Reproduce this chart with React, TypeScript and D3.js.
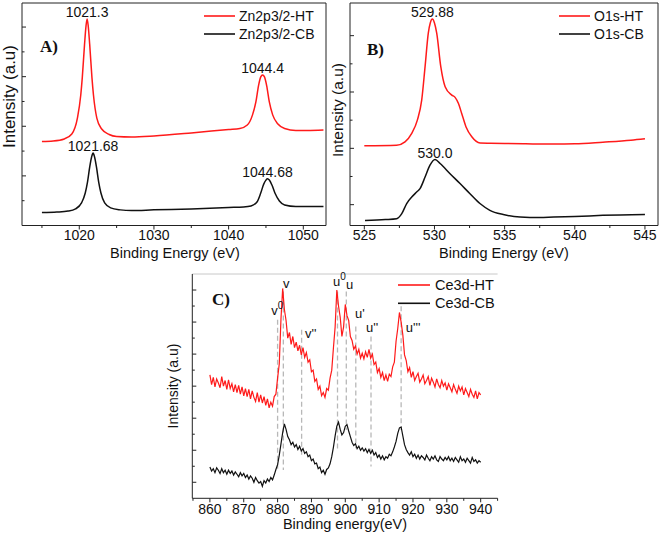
import React from 'react';
import * as d3 from 'd3';

type Pt = [number, number];

// ---- Panel A: Zn2p3/2 (energy eV, intensity a.u.) ----
const znHT: Pt[] = [[1015.0,3.39],[1016.5,3.41],[1018.0,3.49],[1019.0,3.69],[1019.75,4.33],[1020.2,5.26],[1020.4,5.95],[1020.7,7.28],[1020.9,8.04],[1021.05,8.33],[1021.2,8.04],[1021.4,7.28],[1021.7,5.95],[1021.9,5.26],[1022.35,4.33],[1023.0,3.89],[1024.0,3.67],[1025.0,3.59],[1027.0,3.57],[1030.0,3.61],[1035.0,3.73],[1040.0,3.87],[1041.5,3.91],[1042.5,4.05],[1043.2,4.46],[1043.65,4.98],[1044.0,5.63],[1044.3,5.99],[1044.55,6.07],[1044.8,5.99],[1045.1,5.63],[1045.45,4.98],[1045.9,4.46],[1046.6,4.09],[1047.5,3.91],[1049.0,3.83],[1050.5,3.83],[1052.7,3.85]];
const znCB: Pt[] = [[1015.0,0.52],[1017.0,0.54],[1018.5,0.58],[1019.5,0.67],[1020.3,0.91],[1020.8,1.31],[1021.1,1.75],[1021.4,2.36],[1021.65,2.76],[1021.85,2.92],[1022.05,2.76],[1022.3,2.36],[1022.6,1.75],[1022.9,1.31],[1023.4,0.91],[1024.2,0.71],[1025.5,0.63],[1027.0,0.60],[1030.0,0.63],[1035.0,0.67],[1040.0,0.73],[1042.0,0.75],[1043.0,0.79],[1043.8,0.95],[1044.3,1.31],[1044.7,1.67],[1045.0,1.83],[1045.2,1.88],[1045.45,1.83],[1045.8,1.63],[1046.2,1.31],[1046.8,0.99],[1047.5,0.83],[1049.0,0.77],[1051.0,0.77],[1052.7,0.77]];
const znPeaks = [
  { text: '1021.3', e: 1021.05, v: 8.33 },
  { text: '1044.4', e: 1044.55, v: 6.07 },
  { text: '1021.68', e: 1021.85, v: 2.92 },
  { text: '1044.68', e: 1045.2, v: 1.88 },
];
const znXTicks = [1020, 1030, 1040, 1050];
const znXMinor = [1015, 1025, 1035, 1045];
const znYMajor = [2, 4, 6, 8];
const znYMinor = [1, 3, 5, 7];

// ---- Panel B: O1s ----
const oHT: Pt[] = [[525.0,3.09],[527.3,3.11],[527.9,3.23],[528.38,3.53],[528.78,4.00],[529.09,4.71],[529.33,5.90],[529.56,7.09],[529.7,7.45],[529.85,7.59],[530.0,7.45],[530.16,7.09],[530.45,5.90],[530.76,5.19],[531.23,4.89],[531.47,4.81],[531.71,4.59],[531.94,4.24],[532.25,3.76],[532.66,3.41],[533.25,3.19],[534.0,3.18],[535.0,3.17],[536.5,3.16],[538.5,3.15],[540.0,3.16],[542.0,3.22],[544.0,3.29],[545.0,3.34]];
const oCB: Pt[] = [[525.05,0.44],[526.5,0.47],[527.3,0.50],[527.67,0.68],[528.02,1.04],[528.38,1.27],[528.73,1.45],[528.97,1.57],[529.33,1.98],[529.68,2.40],[530.04,2.60],[530.4,2.46],[531.11,2.10],[531.82,1.75],[532.53,1.39],[533.24,1.04],[533.95,0.80],[534.9,0.65],[536.1,0.56],[537.5,0.54],[538.5,0.56],[540.0,0.58],[542.0,0.62],[545.0,0.65]];
const oPeaks = [
  { text: '529.88', e: 529.85, v: 7.59 },
  { text: '530.0', e: 530.04, v: 2.60 },
];
const oXTicks = [525, 530, 535, 540, 545];
const oXMinor = [527.5, 532.5, 537.5, 542.5];
const oYMajor = [1, 3, 5, 7];
const oYMinor = [2, 4, 6];

// ---- Panel C: Ce3d, sampled every 0.5 eV from 860 eV ----
const ceStart = 860;
const ceStep = 0.5;
const ceHT = [
  7.7, 7.1, 7.55, 6.95, 7.45, 7.2, 6.9, 7.6, 7.0, 7.35,
  6.8, 7.4, 6.85, 7.15, 6.65, 7.1, 6.6, 7.05, 6.5, 6.95,
  6.4, 6.85, 6.35, 6.8, 6.2, 6.7, 6.3, 6.05, 6.6, 6.0,
  6.45, 5.95, 6.35, 5.8, 6.2, 5.65, 6.0, 5.75, 6.35, 6.5,
  7.5, 8.4, 11.2, 13.1, 11.8, 11.1, 10.0, 10.35, 9.6, 10.1,
  9.4, 9.75, 9.2, 9.55, 8.95, 9.4, 8.8, 9.1, 8.5, 8.65,
  7.9, 8.0, 7.3, 7.45, 6.8, 7.0, 6.4, 6.6, 6.3, 6.85,
  6.75, 7.5, 8.0, 9.4, 10.7, 13.0, 12.0, 11.3, 10.1, 10.7,
  12.1, 11.4, 11.1, 10.1, 9.85, 9.3, 9.5, 9.0, 9.3, 8.75,
  9.05, 8.7, 9.15, 8.8, 9.3, 8.75, 9.0, 8.35, 8.5, 7.85,
  8.1, 7.55, 7.85, 7.35, 7.7, 7.3, 7.75, 7.6, 8.2, 8.5,
  9.8, 10.6, 11.6, 11.0, 10.2, 8.95, 8.6, 7.9, 8.15, 7.55,
  7.9, 7.35, 7.6, 7.8, 7.25, 7.45, 7.7, 7.15, 7.35, 7.6,
  7.05, 7.5, 7.25, 6.95, 7.45, 7.1, 6.9, 7.35, 7.0, 7.2,
  6.75, 7.15, 6.9, 6.65, 7.1, 6.8, 6.55, 7.0, 6.7, 6.95,
  6.45, 6.85, 6.6, 6.35, 6.8, 6.5, 6.3, 6.7, 6.2, 6.6,
  6.45,
];
const ceCB = [
  1.95, 1.7, 1.85, 1.6, 1.9, 1.75, 1.55, 1.85, 1.6, 1.75,
  1.5, 1.75, 1.55, 1.7, 1.45, 1.65, 1.5, 1.35, 1.6, 1.4,
  1.55, 1.3, 1.45, 1.2, 1.4, 1.25, 1.0, 1.3, 1.1, 0.95,
  1.05, 0.75, 1.1, 0.95, 1.2, 1.05, 1.3, 1.15, 1.45, 1.8,
  2.1, 2.7, 3.4, 4.1, 4.65, 4.3, 3.85, 3.65, 3.35, 3.5,
  3.2, 3.35, 3.05, 3.25, 2.95, 3.1, 2.8, 2.9, 2.6, 2.7,
  2.35, 2.45, 2.15, 2.2, 1.85, 1.95, 1.6, 1.75, 1.5, 1.8,
  1.9, 2.15, 2.6, 3.2, 3.9, 4.5, 4.75, 4.3, 3.95, 4.1,
  4.5, 4.6, 4.2, 3.85, 3.5, 3.3, 3.4, 3.1, 3.25, 3.0,
  3.15, 2.95, 3.1, 2.85, 3.05, 2.8, 3.0, 2.7, 2.85, 2.55,
  2.7, 2.45, 2.65, 2.4, 2.6, 2.5, 2.75, 2.65, 2.9, 3.2,
  3.55, 4.05, 4.4, 4.45, 3.9, 3.35, 3.05, 2.85, 2.7, 2.9,
  2.6, 2.75, 2.5, 2.7, 2.45, 2.65, 2.55, 2.4, 2.7, 2.5,
  2.35, 2.6, 2.45, 2.65, 2.4, 2.3, 2.6, 2.45, 2.35, 2.55,
  2.4, 2.6, 2.35, 2.5, 2.3, 2.55, 2.4, 2.25, 2.6, 2.35,
  2.45, 2.25, 2.5, 2.35, 2.2, 2.55, 2.3, 2.4, 2.2, 2.35,
  2.25,
];
// satellite markers: line energy, line top/bottom (a.u.), label anchor (energy, a.u.)
const ceMarks = [
  { name: 'v', sup: '0', e: 880.0, top: 11.14, bottom: 1.77, le: 878.1, lv: 11.46 },
  { name: 'v', sup: '', e: 881.7, top: 12.91, bottom: 1.77, le: 881.6, lv: 13.14 },
  { name: "v''", sup: '', e: 887.1, top: 10.52, bottom: 2.6, le: 888.1, lv: 10.02 },
  { name: 'u', sup: '0', e: 897.7, top: 12.91, bottom: 3.02, le: 896.4, lv: 13.23 },
  { name: 'u', sup: '', e: 900.3, top: 12.91, bottom: 4.27, le: 900.2, lv: 13.08 },
  { name: "u'", sup: '', e: 903.1, top: 10.72, bottom: 3.12, le: 902.9, lv: 11.27 },
  { name: "u''", sup: '', e: 907.6, top: 10.1, bottom: 1.98, le: 906.1, lv: 10.35 },
  { name: "u'''", sup: '', e: 916.5, top: 11.98, bottom: 4.27, le: 917.9, lv: 10.41 },
];
const ceXTicks = [860, 870, 880, 890, 900, 910, 920, 930, 940];
const ceXMinor = [855, 865, 875, 885, 895, 905, 915, 925, 935, 945];
const ceYMajor = [1, 3, 5, 7, 9, 11, 13];
const ceYMinor = [2, 4, 6, 8, 10, 12];

const SANS = "'Liberation Sans', Arial, Helvetica, sans-serif";
const SERIF = "'Liberation Serif', 'Times New Roman', serif";
const RED = '#ff1a1a';
const BLACK = '#111';
const AXIS = '#222';

type PanelCfg = {
  left: number; right: number; top: number; bottom: number;
  boxRight: boolean; topColor: string;
  xDomain: [number, number]; yDomain: [number, number];
  xMajor: number[]; xMinor: number[]; yMajor: number[]; yMinor: number[];
  tickFont: number; tickBase: number;
  xLabel: string; xLabelX: number; xLabelBase: number; xLabelFont: number;
  yLabelX: number; yLabelY: number; yLabelFont: number;
  letter: string; letterX: number; letterY: number;
  legend: { x1: number; x2: number; tx: number; y1: number; y2: number; font: number; names: [string, string] };
};

function Frame({ c, x, y }: { c: PanelCfg; x: d3.ScaleLinear<number, number>; y: d3.ScaleLinear<number, number> }) {
  return (
    <g>
      <line x1={c.left} x2={c.right} y1={c.top} y2={c.top} stroke={c.topColor} strokeWidth={1} />
      {c.boxRight ? <line x1={c.right} x2={c.right} y1={c.top} y2={c.bottom} stroke={AXIS} strokeWidth={1} /> : null}
      <line x1={c.left} x2={c.left} y1={c.top} y2={c.bottom} stroke={AXIS} strokeWidth={1} />
      <line x1={c.left} x2={c.right} y1={c.bottom} y2={c.bottom} stroke={AXIS} strokeWidth={1} />
      {c.xMajor.map(t => (
        <g key={'xm' + t}>
          <line x1={x(t)} x2={x(t)} y1={c.bottom} y2={c.bottom + 4} stroke={AXIS} />
          <text x={x(t)} y={c.tickBase} textAnchor="middle" fontFamily={SANS} fontSize={c.tickFont} fill="#111">{t}</text>
        </g>
      ))}
      {c.xMinor.map(t => (
        <line key={'xn' + t} x1={x(t)} x2={x(t)} y1={c.bottom} y2={c.bottom + 2.5} stroke={AXIS} />
      ))}
      {c.yMajor.map(t => (
        <line key={'ym' + t} x1={c.left} x2={c.left + 4} y1={y(t)} y2={y(t)} stroke={AXIS} />
      ))}
      {c.yMinor.map(t => (
        <line key={'yn' + t} x1={c.left} x2={c.left + 2.5} y1={y(t)} y2={y(t)} stroke={AXIS} />
      ))}
      <text x={c.xLabelX} y={c.xLabelBase} textAnchor="middle" fontFamily={SANS} fontSize={c.xLabelFont} fill="#111">{c.xLabel}</text>
      <text transform={`translate(${c.yLabelX},${c.yLabelY}) rotate(-90)`} textAnchor="middle" fontFamily={SANS} fontSize={c.yLabelFont} fill="#111">Intensity (a.u)</text>
      <text x={c.letterX} y={c.letterY} fontFamily={SERIF} fontWeight="bold" fontSize={17} fill="#111">{c.letter}</text>
      <line x1={c.legend.x1} x2={c.legend.x2} y1={c.legend.y1} y2={c.legend.y1} stroke={RED} strokeWidth={1.6} />
      <line x1={c.legend.x1} x2={c.legend.x2} y1={c.legend.y2} y2={c.legend.y2} stroke={BLACK} strokeWidth={1.6} />
      <text x={c.legend.tx} y={c.legend.y1 + 5} fontFamily={SANS} fontSize={c.legend.font} fill="#111">{c.legend.names[0]}</text>
      <text x={c.legend.tx} y={c.legend.y2 + 5} fontFamily={SANS} fontSize={c.legend.font} fill="#111">{c.legend.names[1]}</text>
    </g>
  );
}

export default function App() {
  const cA: PanelCfg = {
    left: 22, right: 326, top: 3, bottom: 225.5, boxRight: true, topColor: AXIS,
    xDomain: [1012.33, 1053.04], yDomain: [0, 8.97],
    xMajor: znXTicks, xMinor: znXMinor, yMajor: znYMajor, yMinor: znYMinor,
    tickFont: 14, tickBase: 239.5,
    xLabel: 'Binding Energy (eV)', xLabelX: 175, xLabelBase: 257.5, xLabelFont: 14.5,
    yLabelX: 15, yLabelY: 96.5, yLabelFont: 17,
    letter: 'A)', letterX: 40, letterY: 52,
    legend: { x1: 204, x2: 235, tx: 239, y1: 16, y2: 34, font: 14, names: ['Zn2p3/2-HT', 'Zn2p3/2-CB'] },
  };
  const cB: PanelCfg = {
    left: 350, right: 658, top: 3, bottom: 225.5, boxRight: true, topColor: AXIS,
    xDomain: [523.98, 545.93], yDomain: [0.26, 8.16],
    xMajor: oXTicks, xMinor: oXMinor, yMajor: oYMajor, yMinor: oYMinor,
    tickFont: 14, tickBase: 239.5,
    xLabel: 'Binding Energy (eV)', xLabelX: 504, xLabelBase: 257.5, xLabelFont: 14.5,
    yLabelX: 343, yLabelY: 110, yLabelFont: 15.5,
    letter: 'B)', letterX: 367, letterY: 55,
    legend: { x1: 559, x2: 590, tx: 594, y1: 16, y2: 34, font: 14, names: ['O1s-HT', 'O1s-CB'] },
  };
  const cC: PanelCfg = {
    left: 192.3, right: 497.6, top: 274, bottom: 498.3, boxRight: false, topColor: '#c8c8c8',
    xDomain: [854.8, 945], yDomain: [0, 14],
    xMajor: ceXTicks, xMinor: ceXMinor, yMajor: ceYMajor, yMinor: ceYMinor,
    tickFont: 14, tickBase: 514,
    xLabel: 'Binding energy(eV)', xLabelX: 345, xLabelBase: 529, xLabelFont: 14.5,
    yLabelX: 178, yLabelY: 386, yLabelFont: 14,
    letter: 'C)', letterX: 212, letterY: 305,
    legend: { x1: 398, x2: 430, tx: 435, y1: 285, y2: 303.3, font: 14.5, names: ['Ce3d-HT', 'Ce3d-CB'] },
  };

  const sc = (c: PanelCfg) => ({
    x: d3.scaleLinear().domain(c.xDomain).range([c.left, c.right]),
    y: d3.scaleLinear().domain(c.yDomain).range([c.bottom, c.top]),
  });
  const sA = sc(cA), sB = sc(cB), sC = sc(cC);

  const smooth = (s: { x: any; y: any }) =>
    d3.line<Pt>().x(d => s.x(d[0])).y(d => s.y(d[1])).curve(d3.curveMonotoneX);
  const lineA = smooth(sA);
  const lineB = smooth(sB);
  const lineC = d3.line<number>().x((_, i) => sC.x(ceStart + i * ceStep)).y(d => sC.y(d));

  return (
    <svg width={661} height={536} style={{ position: 'absolute', left: 0, top: 0, background: '#fff' }}>
      <rect width={661} height={536} fill="#fff" />
      {/* Panel A */}
      <Frame c={cA} x={sA.x} y={sA.y} />
      <path d={lineA(znHT) || ''} fill="none" stroke={RED} strokeWidth={1.5} />
      <path d={lineA(znCB) || ''} fill="none" stroke={BLACK} strokeWidth={1.5} />
      {znPeaks.map(p => (
        <text key={p.text} x={sA.x(p.e)} y={sA.y(p.v) - 2} textAnchor="middle" fontFamily={SANS} fontSize={14} fill="#111">{p.text}</text>
      ))}
      {/* Panel B */}
      <Frame c={cB} x={sB.x} y={sB.y} />
      <path d={lineB(oHT) || ''} fill="none" stroke={RED} strokeWidth={1.5} />
      <path d={lineB(oCB) || ''} fill="none" stroke={BLACK} strokeWidth={1.5} />
      {oPeaks.map(p => (
        <text key={p.text} x={sB.x(p.e)} y={sB.y(p.v) - 2} textAnchor="middle" fontFamily={SANS} fontSize={14} fill="#111">{p.text}</text>
      ))}
      {/* Panel C */}
      <Frame c={cC} x={sC.x} y={sC.y} />
      {ceMarks.map((m, i) => (
        <line key={'dl' + i} x1={sC.x(m.e)} x2={sC.x(m.e)} y1={sC.y(m.top)} y2={sC.y(m.bottom)} stroke="#b8b8b8" strokeWidth={1.3} strokeDasharray="5 3" />
      ))}
      <path d={lineC(ceHT) || ''} fill="none" stroke={RED} strokeWidth={1.2} />
      <path d={lineC(ceCB) || ''} fill="none" stroke={BLACK} strokeWidth={1.2} />
      {ceMarks.map((m, i) => (
        <text key={'ml' + i} x={sC.x(m.le)} y={sC.y(m.lv)} fontFamily={SANS} fontSize={13} fill="#111">
          {m.name}
          {m.sup ? <tspan fontSize={10} dy={-6}>{m.sup}</tspan> : null}
        </text>
      ))}
    </svg>
  );
}
